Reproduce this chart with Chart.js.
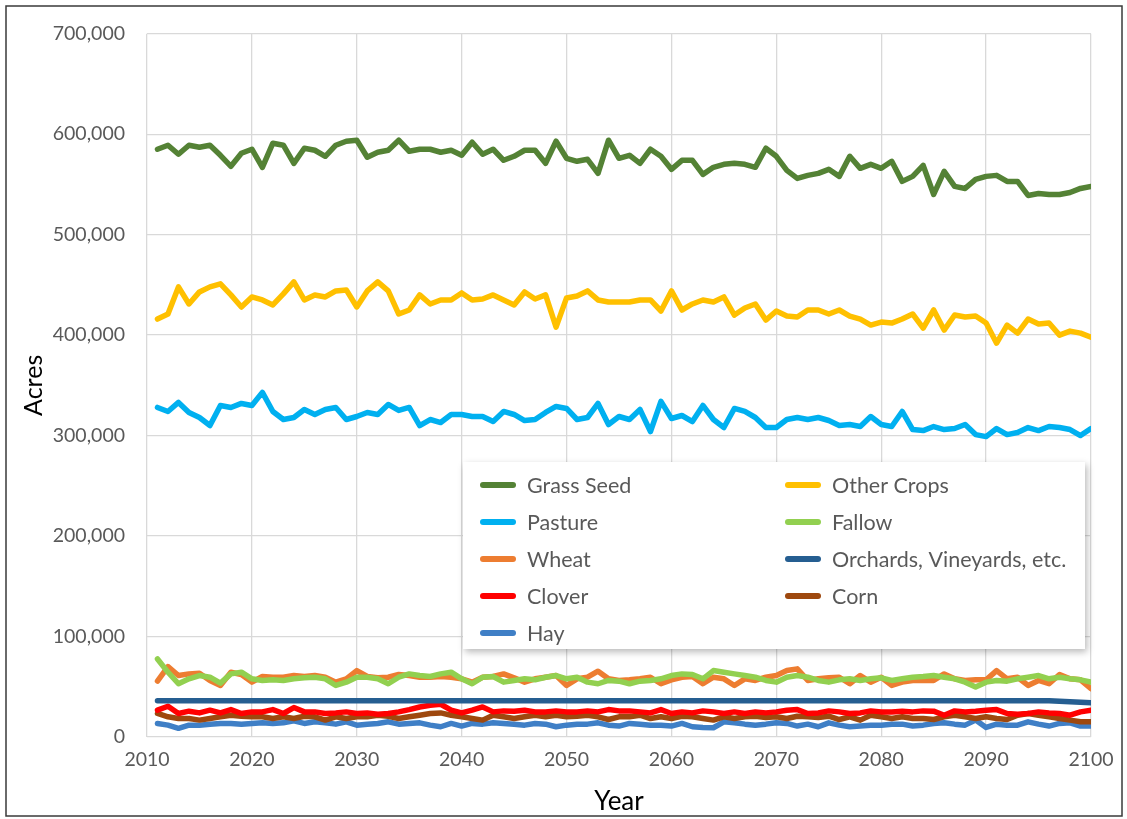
<!DOCTYPE html>
<html>
<head>
<meta charset="utf-8">
<script src="https://cdn.jsdelivr.net/npm/chart.js@4/dist/chart.umd.min.js"></script>
<style>
  html, body { margin: 0; padding: 0; background: #fff; }
  canvas { display: block; }
</style>
</head>
<body>
<canvas id="chart" width="1127" height="819"></canvas>
<script>
// Projected acreage by land use, 2011–2100
const firstYear = 2011;
const lastYear = 2100;

const grassSeed = [
  585000, 589000, 580000, 589000, 587000, 589000, 579000, 568000, 581000, 585000, 567000, 591000,
  589000, 571000, 586000, 584000, 578000, 589000, 593000, 594000, 577000, 582000, 584000,
  594000, 583000, 585000, 585000, 582000, 584000, 579000, 592000, 580000, 585000, 574000,
  578000, 584000, 584000, 571000, 593000, 576000, 573000, 575000, 561000, 594000, 576000,
  579000, 571000, 585000, 578000, 565000, 574000, 574000, 560000, 567000, 570000, 571000,
  570000, 567000, 586000, 578000, 564000, 556000, 559000, 561000, 565000, 558000, 578000, 566000,
  570000, 566000, 573000, 553000, 558000, 569000, 540000, 563000, 548000, 546000, 555000,
  558000, 559000, 553000, 553000, 539000, 541000, 540000, 540000, 542000, 546000, 548000
];

const otherCrops = [
  416000, 421000, 448000, 431000, 443000, 448000, 451000, 440000, 428000, 438000, 435000, 430000,
  441000, 453000, 435000, 440000, 438000, 444000, 445000, 428000, 444000, 453000, 444000,
  421000, 425000, 440000, 431000, 435000, 435000, 442000, 435000, 436000, 440000, 435000,
  430000, 443000, 436000, 440000, 408000, 437000, 439000, 444000, 435000, 433000, 433000,
  433000, 435000, 435000, 424000, 444000, 425000, 431000, 435000, 433000, 438000, 420000,
  427000, 431000, 415000, 424000, 419000, 418000, 425000, 425000, 421000, 425000, 419000, 416000,
  410000, 413000, 412000, 416000, 421000, 407000, 425000, 405000, 420000, 418000, 419000,
  412000, 392000, 410000, 402000, 416000, 411000, 412000, 400000, 404000, 402000, 398000
];

const pasture = [
  328000, 324000, 333000, 323000, 318000, 310000, 330000, 328000, 332000, 330000, 343000, 324000,
  316000, 318000, 326000, 321000, 326000, 328000, 316000, 319000, 323000, 321000, 331000,
  325000, 328000, 310000, 316000, 313000, 321000, 321000, 319000, 319000, 314000, 324000,
  321000, 315000, 316000, 323000, 329000, 327000, 316000, 318000, 332000, 311000, 319000,
  316000, 326000, 304000, 334000, 317000, 320000, 314000, 330000, 316000, 308000, 327000,
  324000, 318000, 308000, 308000, 316000, 318000, 316000, 318000, 315000, 310000, 311000, 309000,
  319000, 311000, 309000, 324000, 306000, 305000, 309000, 306000, 307000, 311000, 301000,
  299000, 307000, 301000, 303000, 308000, 305000, 309000, 308000, 306000, 300000, 307000
];

const fallow = [
  77700, 64500, 53000, 57900, 61200, 59500, 53600, 62800, 64500, 57900, 56300, 56900,
  56300, 57900, 58900, 59500, 57900, 51300, 54600, 59500, 59500, 57900, 53000,
  59500, 62800, 61200, 60200, 62800, 64500, 57900, 53000, 59500, 60200, 54600,
  56300, 57900, 56900, 59500, 61200, 57900, 59500, 54600, 53000, 56300, 55600,
  53000, 55600, 56300, 57900, 61200, 62800, 62200, 57900, 66100, 64500, 62800,
  61200, 59500, 56300, 54600, 59500, 61200, 59500, 56300, 54600, 56900, 57900, 56300,
  57900, 58900, 56300, 57900, 59500, 60200, 61200, 59500, 57900, 54600, 49700,
  54600, 56300, 55600, 57900, 59500, 61200, 57900, 59500, 57900, 56900, 54600
];

const wheat = [
  55600, 70100, 61200, 62800, 63500, 56300, 51300, 64500, 62200, 54600, 60200, 59500,
  59500, 61200, 60200, 61200, 59500, 54600, 57900, 66100, 60200, 58900, 59500,
  62200, 61200, 59500, 59500, 60200, 59500, 57900, 54600, 59500, 60200, 62800,
  58900, 54600, 57900, 59500, 61200, 51300, 57900, 59500, 65500, 57900, 56300,
  56900, 57900, 59500, 53000, 56900, 59500, 60200, 53000, 59500, 57900, 51300,
  57900, 56300, 59500, 61200, 66100, 67800, 56300, 57900, 58900, 59500, 53000, 61200,
  54600, 59500, 51300, 54600, 56300, 56300, 56300, 62800, 57900, 56300, 56900,
  56900, 66100, 57900, 59500, 51300, 56300, 53000, 62200, 57900, 56900, 48000
];

const orchards = [
  36000, 36000, 36000, 36000, 36000, 36000, 36000, 36000, 36000, 36000, 36000, 36000,
  36000, 36000, 36000, 36000, 36000, 36000, 36000, 36000, 36000, 36000, 36000,
  36000, 36000, 36000, 36000, 36000, 36000, 36000, 36000, 36000, 36000, 36000,
  36000, 36000, 36000, 36000, 36000, 36000, 36000, 36000, 36000, 36000, 36000,
  36000, 36000, 36000, 36000, 36000, 36000, 36000, 36000, 36000, 36000, 36000,
  36000, 36000, 36000, 36000, 36000, 36000, 36000, 36000, 36000, 36000, 36000, 36000,
  36000, 36000, 36000, 36000, 36000, 36000, 36000, 36000, 36000, 36000, 36000,
  36000, 36000, 36000, 36000, 36000, 36000, 36000, 35500, 35000, 34500, 34000
];

const clover = [
  26700, 30600, 23400, 25700, 24000, 26700, 24000, 27300, 23400, 25000, 25000, 27300,
  23400, 29300, 25000, 25000, 23400, 24000, 25000, 23400, 24000, 22700, 23400,
  25000, 27300, 29900, 31600, 32600, 26700, 24000, 26700, 29900, 25000, 26000,
  25700, 26700, 25000, 25000, 26000, 25000, 25000, 26000, 25000, 27300, 26000,
  26000, 25000, 24000, 27300, 23400, 25000, 24000, 26000, 25000, 23400, 25000,
  23400, 25000, 24000, 25000, 26700, 27300, 23400, 24000, 26000, 25000, 23400, 24000,
  26000, 25000, 25000, 25700, 25000, 26000, 25700, 21700, 26000, 25000, 25700,
  26700, 27300, 23400, 22700, 23400, 25000, 24000, 23400, 21700, 25000, 26700
];

const corn = [
  23400, 20100, 18400, 18400, 16800, 18400, 20100, 21700, 20700, 20100, 20100, 18400,
  20100, 18400, 20700, 20100, 16800, 20100, 18400, 20100, 20100, 21700, 20700,
  18400, 20100, 21700, 23400, 24000, 21700, 20100, 18400, 16800, 21700, 20100,
  18400, 20100, 21700, 20100, 21700, 20100, 20700, 21700, 20100, 17400, 20100,
  20100, 21700, 18400, 20100, 18400, 20700, 20100, 18400, 16800, 20100, 18400,
  20100, 20700, 19400, 20100, 18400, 20700, 20100, 19400, 20700, 17400, 20100, 16800,
  21700, 20100, 18400, 20100, 18400, 18400, 17400, 20100, 21700, 20100, 18400,
  20100, 18400, 17400, 21700, 23400, 21700, 20100, 18400, 16800, 15100, 15100
];

const hay = [
  13500, 11800, 8600, 11800, 11800, 12800, 13500, 13500, 12800, 13500, 14100, 13500,
  14100, 16100, 13500, 15100, 14100, 12800, 15100, 11800, 12800, 13500, 15100,
  12800, 13500, 14100, 11800, 10200, 13500, 10900, 13500, 12800, 14100, 13500,
  12800, 11800, 13500, 12800, 10200, 11800, 12800, 12800, 14100, 11800, 10900,
  13500, 12800, 11800, 11800, 10900, 13500, 10200, 9500, 9200, 15100, 14100,
  12800, 11800, 12800, 14100, 13500, 10900, 12800, 10200, 14100, 11800, 10200, 10900,
  11800, 11800, 12800, 12800, 10900, 11800, 13500, 14100, 12800, 11800, 16800,
  9500, 12800, 11800, 11800, 15100, 12800, 10900, 13500, 14100, 10900, 10900
];

const seriesLabels = [
  'Grass Seed', 'Other Crops', 'Pasture', 'Fallow', 'Wheat',
  'Orchards, Vineyards, etc.', 'Clover', 'Corn', 'Hay'
];
const seriesValues = [grassSeed, otherCrops, pasture, fallow, wheat, orchards, clover, corn, hay];
const seriesColors = ['#548235', '#FFC000', '#00B0F0', '#92D050', '#ED7D31', '#255E91', '#FF0000', '#9E480E', '#3F7FC6'];

const xTicks = [2010, 2020, 2030, 2040, 2050, 2060, 2070, 2080, 2090, 2100];
const yTicks = [0, 100000, 200000, 300000, 400000, 500000, 600000, 700000];

const years = [];
for (let y = firstYear; y <= lastYear; y++) years.push(y);

const FONT = 'Lato, "Open Sans", sans-serif';
const TEXT = '#595959';

const PAD = { left: 8, right: 36, top: 29, bottom: 0 };
const PLOT_LEFT = 147, PLOT_BOTTOM = 737, H = 819;

// white page, outer frame and the two-column legend box
const framePlugin = {
  id: 'frame',
  beforeDraw(chart) {
    const ctx = chart.ctx;
    ctx.save();
    ctx.fillStyle = '#fff';
    ctx.fillRect(0, 0, chart.width, chart.height);
    ctx.restore();
  },
  afterDraw(chart) {
    const ctx = chart.ctx;
    const area = chart.chartArea;
    ctx.save();
    // legend box
    const bx = area.left + 316, by = 462, bw = 622, bh = 187;
    ctx.shadowColor = 'rgba(0,0,0,0.28)';
    ctx.shadowBlur = 7;
    ctx.shadowOffsetX = 2;
    ctx.shadowOffsetY = 3;
    ctx.fillStyle = '#fff';
    ctx.fillRect(bx, by, bw, bh);
    ctx.shadowColor = 'transparent';
    ctx.shadowBlur = 0;
    ctx.shadowOffsetX = 0;
    ctx.shadowOffsetY = 0;

    const cols = [bx + 17, bx + 322];
    const rowH = 37;
    ctx.font = '21.5px ' + FONT;
    ctx.textBaseline = 'middle';
    ctx.textAlign = 'left';
    chart.data.datasets.forEach((ds, i) => {
      const col = i % 2, row = Math.floor(i / 2);
      const x = cols[col];
      const y = by + 23 + row * rowH;
      ctx.strokeStyle = ds.borderColor;
      ctx.lineWidth = 6;
      ctx.lineCap = 'round';
      ctx.beginPath();
      ctx.moveTo(x + 3, y);
      ctx.lineTo(x + 33, y);
      ctx.stroke();
      ctx.fillStyle = TEXT;
      ctx.fillText(ds.label, x + 47, y + 1);
    });

    // outer frame
    ctx.strokeStyle = '#3a3a3a';
    ctx.lineWidth = 1.5;
    ctx.strokeRect(6, 6, 1116, 810);
    ctx.restore();
  }
};

new Chart(document.getElementById('chart'), {
  type: 'line',
  data: {
    datasets: seriesLabels.map((label, i) => ({
      label,
      data: seriesValues[i].map((v, k) => ({ x: years[k], y: v })),
      borderColor: seriesColors[i],
      backgroundColor: seriesColors[i],
      borderWidth: 5.5,
      pointRadius: 0,
      tension: 0,
      borderJoinStyle: 'round',
      borderCapStyle: 'round',
      fill: false
    }))
  },
  options: {
    responsive: false,
    animation: false,
    layout: { padding: PAD },
    plugins: { legend: { display: false }, tooltip: { enabled: false } },
    scales: {
      x: {
        type: 'linear',
        min: xTicks[0],
        max: xTicks[xTicks.length - 1],
        afterBuildTicks(scale) { scale.ticks = xTicks.map(v => ({ value: v })); },
        ticks: {
          color: TEXT,
          font: { family: FONT, size: 19.5 },
          padding: 11,
          maxRotation: 0,
          callback: v => String(v)
        },
        grid: { color: '#D9D9D9', lineWidth: 1.3, drawTicks: false },
        border: { display: false },
        title: {
          display: true, text: 'Year', color: '#000',
          font: { family: FONT, size: 26 }, padding: { top: 3, bottom: 2 }
        },
        afterFit(scale) { scale.height = H - PLOT_BOTTOM - PAD.bottom; }
      },
      y: {
        min: yTicks[0],
        max: yTicks[yTicks.length - 1],
        afterBuildTicks(scale) { scale.ticks = yTicks.map(v => ({ value: v })); },
        ticks: {
          color: TEXT,
          font: { family: FONT, size: 19.5 },
          padding: 22,
          callback: v => v.toLocaleString('en-US')
        },
        grid: { color: '#D9D9D9', lineWidth: 1.3, drawTicks: false },
        border: { display: false },
        title: {
          display: true, text: 'Acres', color: '#000',
          font: { family: FONT, size: 25 }, padding: { top: 11, bottom: 11 }
        },
        afterFit(scale) { scale.width = PLOT_LEFT - PAD.left; }
      }
    }
  },
  plugins: [framePlugin]
});
</script>
</body>
</html>
